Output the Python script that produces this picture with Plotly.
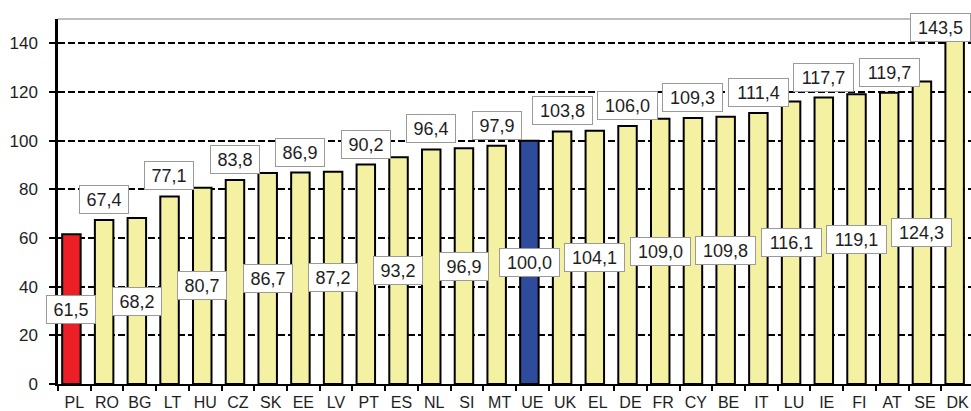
import plotly.graph_objects as go

# Price level index by country (UE = 100)
countries = ["PL", "RO", "BG", "LT", "HU", "CZ", "SK", "EE", "LV", "PT", "ES", "NL", "SI", "MT",
             "UE", "UK", "EL", "DE", "FR", "CY", "BE", "IT", "LU", "IE", "FI", "AT", "SE", "DK"]
values = [61.5, 67.4, 68.2, 77.1, 80.7, 83.8, 86.7, 86.9, 87.2, 90.2, 93.2, 96.4, 96.9, 97.9,
          100.0, 103.8, 104.1, 106.0, 109.0, 109.3, 109.8, 111.4, 116.1, 117.7, 119.1, 119.7, 124.3, 143.5]
y_ticks = [0, 20, 40, 60, 80, 100, 120, 140]

YELLOW = "#F5F1A3"
RED = "#EC1F26"
BLUE = "#2F4C9C"
FONT = "Arial, Liberation Sans, sans-serif"
TEXT = "#1e1e1e"

colors = [RED if c == "PL" else BLUE if c == "UE" else YELLOW for c in countries]

BAR_W = 0.565
SHIFT = -0.09  # bars sit slightly left of the category centre

fig = go.Figure()
fig.add_trace(go.Bar(
    x=countries, y=values,
    marker=dict(color=colors, line=dict(color="black", width=2)),
    width=BAR_W, offset=-BAR_W / 2 + SHIFT,
    hoverinfo="skip", showlegend=False,
))


def fmt(v):
    return f"{v:.1f}".replace(".", ",")


annotations = []
top_value = max(values)
for i, (c, v) in enumerate(zip(countries, values)):
    txt = fmt(v)
    box = dict(
        text=txt, showarrow=False,
        font=dict(family=FONT, size=18, color=TEXT),
        bgcolor="white", bordercolor="#9a9a9a", borderwidth=1, borderpad=1,
        width=46 if len(txt) <= 4 else 57, height=25,
        align="center", valign="middle",
    )
    if v == top_value:
        # largest value: label kept inside the chart's top-right corner
        box.update(xref="paper", yref="paper", x=1, y=1,
                   xanchor="right", yanchor="top", yshift=6)
    elif i % 2 == 0:
        # centred inside the bar
        box.update(xref="x", yref="y", x=c, y=v / 2,
                   xanchor="center", yanchor="middle", xshift=-3)
    else:
        # just above the bar
        box.update(xref="x", yref="y", x=c, y=v,
                   xanchor="center", yanchor="bottom", xshift=-3, yshift=6)
    annotations.append(box)

fig.update_layout(
    width=971, height=411,
    margin=dict(l=58, r=0, t=19, b=27),
    paper_bgcolor="white", plot_bgcolor="white",
    annotations=annotations,
    shapes=[dict(type="line", xref="paper", yref="paper", x0=0, x1=1, y0=1, y1=1,
                 line=dict(color="#a8a8a8", width=1.5), layer="below")],
    xaxis=dict(
        type="category", range=[-0.5, 27.41],
        tickson="boundaries", ticks="outside", ticklen=5, tickwidth=2, tickcolor="black",
        showline=True, linecolor="black", linewidth=2,
        showgrid=False, zeroline=False, tickangle=0,
        tickfont=dict(family=FONT, size=16, color=TEXT),
        ticklabelstandoff=3,
    ),
    yaxis=dict(
        range=[0, 150], tickmode="array", tickvals=y_ticks,
        ticks="outside", ticklen=6, tickwidth=2, tickcolor="black",
        showline=True, linecolor="black", linewidth=2.5,
        showgrid=True, gridcolor="black", gridwidth=1.5, griddash="7px,3px",
        zeroline=False,
        tickfont=dict(family=FONT, size=17, color=TEXT),
        ticklabelstandoff=8,
    ),
)

fig.write_html("out.html")
